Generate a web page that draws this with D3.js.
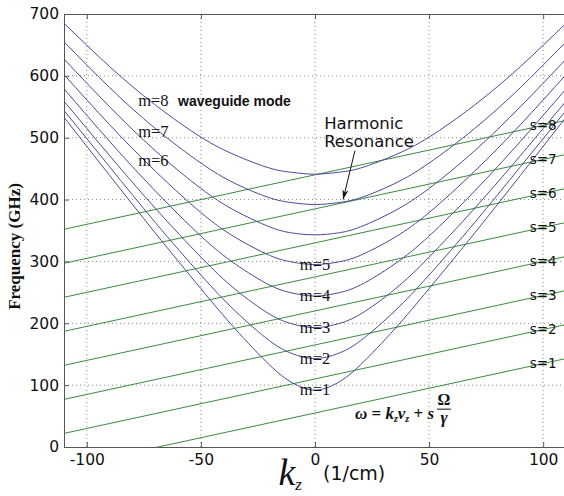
<!DOCTYPE html>
<html>
<head>
<meta charset="utf-8">
<script src="https://cdn.jsdelivr.net/npm/d3@7"></script>
<style>
  body { margin: 0; background: #fff; }
  .axis text { font-family: "DejaVu Sans", sans-serif; font-size: 15.5px; fill: #111; }
  .axis path, .axis line { stroke: #555; }
</style>
</head>
<body>
<div id="chart-area"></div>
<script>
/*
*    waveguide dispersion vs. cyclotron harmonic lines
*/

// kz samples (1/cm) used for the waveguide mode curves
var kz = [-110, -90, -70, -50, -35, -20, -10, 0, 10, 20, 35, 50, 70, 90, 110];

// waveguide modes m=1..8, frequency in GHz read at each kz sample
var mode1 = [533, 439, 346, 256, 191, 133, 104,  92, 104, 133, 191, 256, 346, 439, 533];
var mode2 = [544, 453, 363, 278, 220, 172, 151, 143, 151, 172, 220, 278, 363, 453, 544];
var mode3 = [559, 471, 386, 307, 255, 215, 199, 193, 199, 215, 255, 307, 386, 471, 559];
var mode4 = [579, 494, 414, 341, 296, 262, 249, 244, 249, 262, 296, 341, 414, 494, 579];
var mode5 = [602, 521, 446, 379, 339, 310, 299, 295, 299, 310, 339, 379, 446, 521, 602];
var mode6 = [627, 550, 479, 418, 382, 356, 346, 343, 346, 356, 382, 418, 479, 550, 627];
var mode7 = [655, 581, 515, 459, 426, 403, 395, 392, 395, 403, 426, 459, 515, 581, 655];
var mode8 = [685, 615, 553, 501, 472, 451, 444, 441, 444, 451, 472, 501, 553, 615, 685];
var modes = [mode1, mode2, mode3, mode4, mode5, mode6, mode7, mode8];

// beam lines s=1..8, frequency at the two ends of the kz range
var lineKz = [-110, 110];
var harmonics = [1, 2, 3, 4, 5, 6, 7, 8];
var lineLeft  = [-33, 22, 77, 132, 187, 242, 297, 352];
var lineRight = [143, 198, 253, 308, 363, 418, 473, 528];

var xTicks = [-100, -50, 0, 50, 100];
var yTicks = [0, 100, 200, 300, 400, 500, 600, 700];

var margin = {top: 14, right: 0, bottom: 49, left: 64};
var width = 502;   // right end of the plot sits just past the picture edge
var height = 433;

var svg = d3.select("#chart-area")
    .append("svg")
    .attr("width", 564)
    .attr("height", 496);

var g = svg.append("g")
    .attr("transform", "translate(" + margin.left + ", " + margin.top + ")");

var x = d3.scaleLinear()
    .domain([-110, 110])
    .range([0, width]);

var y = d3.scaleLinear()
    .domain([0, 700])
    .range([height, 0]);

g.append("clipPath")
    .attr("id", "plot-clip")
    .append("rect")
    .attr("width", width)
    .attr("height", height);

// dotted grid
g.selectAll(".vgrid").data(xTicks).enter()
    .append("line")
    .attr("class", "vgrid")
    .attr("x1", (d) => x(d)).attr("x2", (d) => x(d))
    .attr("y1", 0).attr("y2", height)
    .attr("stroke", "#8a8a8a")
    .attr("stroke-dasharray", "1,3");

g.selectAll(".hgrid").data(yTicks.slice(1, -1)).enter()
    .append("line")
    .attr("class", "hgrid")
    .attr("x1", 0).attr("x2", width)
    .attr("y1", (d) => y(d)).attr("y2", (d) => y(d))
    .attr("stroke", "#8a8a8a")
    .attr("stroke-dasharray", "1,3");

var plot = g.append("g").attr("clip-path", "url(#plot-clip)");

// harmonic beam lines
var beamLine = d3.line()
    .x((d) => x(d[0]))
    .y((d) => y(d[1]));

plot.selectAll(".beam").data(harmonics).enter()
    .append("path")
    .attr("class", "beam")
    .attr("d", (d, i) => beamLine([[lineKz[0], lineLeft[i]], [lineKz[1], lineRight[i]]]))
    .attr("fill", "none")
    .attr("stroke", "#3a8c3a")
    .attr("stroke-width", 1);

// waveguide mode curves
var modeLine = d3.line()
    .x((d, i) => x(kz[i]))
    .y((d) => y(d))
    .curve(d3.curveNatural);

plot.selectAll(".mode").data(modes).enter()
    .append("path")
    .attr("class", "mode")
    .attr("d", (d) => modeLine(d))
    .attr("fill", "none")
    .attr("stroke", "#4a4a9c")
    .attr("stroke-width", 1);

// axes (plain hyphen minus, like the original)
var bottomAxis = d3.axisBottom(x)
    .tickValues(xTicks)
    .tickSizeInner(-5)
    .tickSizeOuter(0)
    .tickPadding(7)
    .tickFormat((d) => String(d));

g.append("g")
    .attr("class", "x axis")
    .attr("transform", "translate(0, " + height + ")")
    .call(bottomAxis);

var leftAxis = d3.axisLeft(y)
    .tickValues(yTicks)
    .tickSizeInner(-5)
    .tickSizeOuter(0)
    .tickPadding(5);

g.append("g")
    .attr("class", "y axis")
    .call(leftAxis);

var topAxis = d3.axisTop(x)
    .tickValues(xTicks)
    .tickSizeInner(-5)
    .tickSizeOuter(0)
    .tickFormat("");

g.append("g")
    .attr("class", "axis")
    .call(topAxis);

// y axis label
g.append("text")
    .attr("x", -(y(350) + 16))
    .attr("y", -44)
    .attr("transform", "rotate(-90)")
    .attr("text-anchor", "middle")
    .attr("font-family", "Liberation Serif, serif")
    .attr("font-weight", "bold")
    .attr("font-size", "17px")
    .attr("fill", "#111")
    .text("Frequency (GHz)");

// x axis label: k_z left of the 0 tick label, units to its right
var kLabel = g.append("text")
    .attr("x", x(-16))
    .attr("y", height + 38)
    .attr("font-family", "Liberation Serif, serif")
    .attr("font-style", "italic")
    .attr("fill", "#111");
kLabel.append("tspan")
    .attr("font-size", "38px")
    .text("k");
kLabel.append("tspan")
    .attr("font-size", "17px")
    .attr("dy", 5)
    .text("z");

g.append("text")
    .attr("x", x(3.5))
    .attr("y", height + 33)
    .attr("font-family", "DejaVu Sans, sans-serif")
    .attr("font-size", "19px")
    .attr("fill", "#111")
    .text("(1/cm)");

// mode labels
var serif = "Liberation Serif, serif";
g.selectAll(".mlabel").data([0, 1, 2, 3, 4]).enter()
    .append("text")
    .attr("class", "mlabel")
    .attr("x", x(0))
    .attr("y", (i) => y(modes[i][7]) + 5)
    .attr("text-anchor", "middle")
    .attr("font-family", serif)
    .attr("font-size", "16.5px")
    .attr("fill", "#111")
    .text((i) => "m=" + (i + 1));

var upperLabels = [
    {text: "m=6", f: 454},
    {text: "m=7", f: 501},
    {text: "m=8", f: 551}
];
g.selectAll(".ulabel").data(upperLabels).enter()
    .append("text")
    .attr("class", "ulabel")
    .attr("x", x(-77.5))
    .attr("y", (d) => y(d.f))
    .attr("font-family", serif)
    .attr("font-size", "16.5px")
    .attr("fill", "#111")
    .text((d) => d.text);

g.append("text")
    .attr("x", x(-60))
    .attr("y", y(551))
    .attr("font-family", "Liberation Sans, Arial, sans-serif")
    .attr("font-weight", "bold")
    .attr("font-size", "14px")
    .attr("fill", "#111")
    .text("waveguide mode");

// s labels sit on the beam lines at kz = 100
var labelKz = 100;
g.selectAll(".slabel").data(harmonics).enter()
    .append("text")
    .attr("class", "slabel")
    .attr("x", x(labelKz))
    .attr("y", (d, i) => {
        var t = (labelKz - lineKz[0]) / (lineKz[1] - lineKz[0]);
        return y(lineLeft[i] + t * (lineRight[i] - lineLeft[i])) + 5;
    })
    .attr("text-anchor", "middle")
    .attr("font-family", "DejaVu Sans, sans-serif")
    .attr("font-size", "13.5px")
    .attr("fill", "#111")
    .text((d) => "s=" + d);

// Harmonic Resonance note with arrow
g.append("defs").append("marker")
    .attr("id", "arrow")
    .attr("viewBox", "0 0 10 6")
    .attr("refX", 10).attr("refY", 3)
    .attr("markerWidth", 10).attr("markerHeight", 6)
    .attr("markerUnits", "userSpaceOnUse")
    .attr("orient", "auto")
    .append("path")
    .attr("d", "M0,0 L10,3 L0,6 L3,3 Z")
    .attr("fill", "#111");

g.append("line")
    .attr("x1", x(17.5)).attr("y1", y(479))
    .attr("x2", x(12.3)).attr("y2", y(400))
    .attr("stroke", "#111")
    .attr("stroke-width", 1)
    .attr("marker-end", "url(#arrow)");

var note = g.append("text")
    .attr("font-family", "DejaVu Sans, sans-serif")
    .attr("font-size", "16.5px")
    .attr("fill", "#111");
note.append("tspan").attr("x", x(4)).attr("y", y(514)).text("Harmonic");
note.append("tspan").attr("x", x(4)).attr("y", y(485)).text("Resonance");

// dispersion formula
var fx = x(17.5);
var fy = y(45);
var formula = g.append("text")
    .attr("x", fx)
    .attr("y", fy)
    .attr("font-family", serif)
    .attr("font-weight", "bold")
    .attr("font-style", "italic")
    .attr("font-size", "17px")
    .attr("fill", "#111");
formula.append("tspan").text("\u03c9");
formula.append("tspan").attr("font-style", "normal").text(" = ");
formula.append("tspan").text("k");
formula.append("tspan").attr("font-size", "10px").attr("dy", 3).text("z");
formula.append("tspan").attr("dy", -3).text("v");
formula.append("tspan").attr("font-size", "10px").attr("dy", 3).text("z");
formula.append("tspan").attr("dy", -3).attr("font-style", "normal").text(" + ");
formula.append("tspan").text("s");

var fracX = x(56.5);
g.append("text")
    .attr("x", fracX).attr("y", fy - 14)
    .attr("text-anchor", "middle")
    .attr("font-family", serif)
    .attr("font-weight", "bold")
    .attr("font-size", "16px")
    .attr("fill", "#111")
    .text("\u03a9");
g.append("line")
    .attr("x1", fracX - 7).attr("x2", fracX + 7)
    .attr("y1", fy - 10).attr("y2", fy - 10)
    .attr("stroke", "#111")
    .attr("stroke-width", 1);
g.append("text")
    .attr("x", fracX).attr("y", fy + 4)
    .attr("text-anchor", "middle")
    .attr("font-family", serif)
    .attr("font-weight", "bold")
    .attr("font-style", "italic")
    .attr("font-size", "17px")
    .attr("fill", "#111")
    .text("\u03b3");
</script>
</body>
</html>
